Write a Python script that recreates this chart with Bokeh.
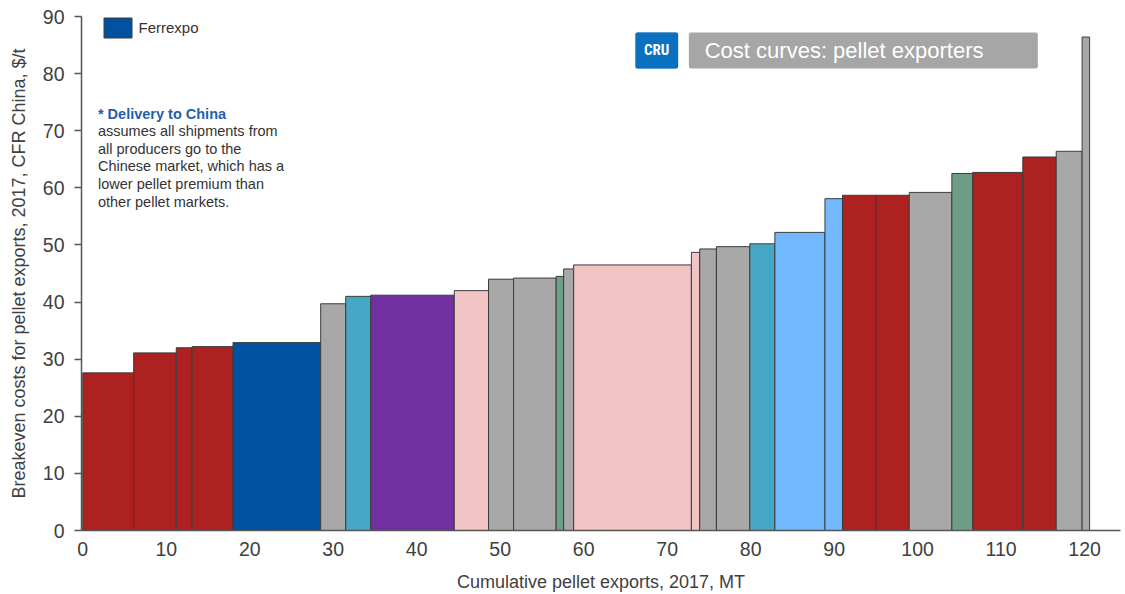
import numpy as np
from bokeh.plotting import figure
from bokeh.models import FixedTicker, Label, BoxAnnotation, Legend, LegendItem, ColumnDataSource
from bokeh.embed import file_html
from bokeh.resources import INLINE

# ---- data ----
volumes = [6.1, 5.1, 1.9, 4.9, 10.5, 3.0, 3.0, 10.0, 4.1, 3.0, 5.1, 0.9, 1.2, 14.1,
           1.0, 2.0, 4.0, 3.0, 6.0, 2.1, 4.0, 4.0, 5.1, 2.5, 6.0, 4.0, 3.1, 0.9]
costs = [27.6, 31.1, 32.0, 32.2, 32.9, 39.7, 41.0, 41.2, 42.0, 44.0, 44.2, 44.5, 45.8, 46.5,
         48.7, 49.3, 49.7, 50.2, 52.2, 58.1, 58.7, 58.7, 59.2, 62.5, 62.7, 65.4, 66.4, 86.4]
groups = ["red", "red", "red", "red", "ferrexpo", "gray", "teal", "purple", "pink", "gray",
          "gray", "green", "gray", "pink", "pink", "gray", "gray", "teal", "lightblue",
          "lightblue", "red", "red", "gray", "green", "red", "red", "gray", "gray"]
palette = {
    "red": "#AD2121",
    "ferrexpo": "#00529F",
    "gray": "#A8A8A8",
    "teal": "#46A8C4",
    "purple": "#7030A0",
    "pink": "#F2C4C4",
    "green": "#6E9F86",
    "lightblue": "#72B9FF",
}
x_ticks = list(range(0, 121, 10))
y_ticks = list(range(0, 91, 10))
note_title = "* Delivery to China"
note_lines = ["assumes all shipments from", "all producers go to the",
              "Chinese market, which has a", "lower pellet premium than",
              "other pellet markets."]

right = np.cumsum(volumes)
left = right - np.array(volumes)
src = ColumnDataSource(dict(left=left, right=right, top=costs, bottom=[0] * len(costs),
                            color=[palette[g] for g in groups]))

FONT = "Liberation Sans"
TXT = "#404040"

p = figure(width=1125, height=594, x_range=(-0.15, 124.3), y_range=(0, 90),
           output_backend="svg", toolbar_location=None,
           min_border_left=81, min_border_right=5, min_border_top=16, min_border_bottom=64)
p.grid.visible = False
p.outline_line_color = None

r = p.quad(left="left", right="right", top="top", bottom="bottom", source=src,
           fill_color="color", line_color="#3C3C3C", line_width=1)

# axes
p.xaxis.ticker = FixedTicker(ticks=x_ticks)
p.yaxis.ticker = FixedTicker(ticks=y_ticks)
for ax in (p.xaxis[0], p.yaxis[0]):
    ax.axis_line_color = "#555555"
    ax.axis_line_width = 1.5
    ax.major_tick_line_color = "#555555"
    ax.major_tick_line_width = 1.5
    ax.minor_tick_line_color = None
    ax.major_label_text_font = FONT
    ax.major_label_text_font_size = "19.5px"
    ax.major_label_text_color = TXT
    ax.axis_label_text_font = FONT
    ax.axis_label_text_font_size = "18px"
    ax.axis_label_text_font_style = "normal"
    ax.axis_label_text_color = TXT
p.xaxis.major_tick_out = 0
p.xaxis.major_tick_in = 0
p.xaxis.major_label_standoff = 11
p.xaxis.axis_label = "Cumulative pellet exports, 2017, MT"
p.xaxis.axis_label_standoff = 13
p.yaxis.major_tick_out = 7
p.yaxis.major_tick_in = 0
p.yaxis.major_label_standoff = 10
p.yaxis.axis_label = "Breakeven costs for pellet exports, 2017, CFR China, $/t"
p.yaxis.axis_label_standoff = 11

# legend
legend = Legend(items=[LegendItem(label="Ferrexpo", renderers=[r], index=4)],
                location=(18.5, 490.5), glyph_width=35, glyph_height=25, label_standoff=4,
                padding=0, margin=0, border_line_alpha=0, background_fill_alpha=0,
                label_text_font=FONT, label_text_font_size="15px", label_text_color="#333333")
p.add_layout(legend)

# note
p.add_layout(Label(x=1.82, y=73.0, text=note_title, text_font=FONT, text_font_size="14.5px",
                   text_font_style="bold", text_color="#1F5FAA", text_baseline="middle"))
for i, line in enumerate(note_lines):
    p.add_layout(Label(x=1.82, y=69.9 - i * 3.08, text=line, text_font=FONT,
                       text_font_size="14.5px", text_color="#333333", text_baseline="middle"))

# CRU badge + title box
p.add_layout(BoxAnnotation(left=66.2, right=71.3, bottom=80.9, top=87.2,
                           fill_color="#0A70C0", fill_alpha=1, line_color="#0A5FA8",
                           line_width=1, border_radius=2))
p.add_layout(BoxAnnotation(left=72.6, right=114.4, bottom=80.9, top=87.2,
                           fill_color="#A6A6A6", fill_alpha=1, line_color=None, border_radius=2))
p.add_layout(Label(x=68.75, y=84.05, text="CRU", text_font="Roboto Condensed, " + FONT,
                   text_font_size="15px", text_font_style="bold", text_color="white",
                   text_align="center", text_baseline="middle"))
p.add_layout(Label(x=74.5, y=84.05, text="Cost curves: pellet exporters", text_font=FONT,
                   text_font_size="22px", text_color="white", text_baseline="middle"))

open("out.html", "w").write(file_html(p, INLINE))
